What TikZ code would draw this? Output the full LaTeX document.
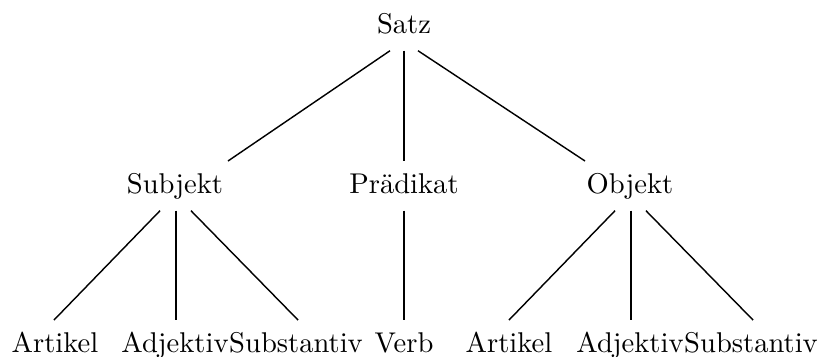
\documentclass[tikz,border=0pt]{standalone}
\usepackage{fontspec}
\usetikzlibrary{calc}

\begin{document}
\begin{tikzpicture}[x=0.35pt,y=-0.35pt,
  word/.style={anchor=base,inner xsep=0pt,inner ysep=4pt,text height=7pt,text depth=2pt},
  edge/.style={line width=0.5pt}]
\useasboundingbox (0,0) rectangle (823,356);
% Wurzel
\node[word] (satz) at (404,33) {Satz};

% mittlere Ebene
\node[word] (subj) at (175,193) {Subjekt};
\node[word] (praed) at (404,193) {Prädikat};
\node[word] (obj) at (630,193) {Objekt};

% untere Ebene
\node[word] (art1) at (55,352) {Artikel};
\node[word] (adj1) at (175,352) {Adjektiv};
\node[word] (sub1) at (296,352) {Substantiv};
\node[word] (verb) at (404,352) {Verb};
\node[word] (art2) at (509,352) {Artikel};
\node[word] (adj2) at (630,352) {Adjektiv};
\node[word] (sub2) at (751,352) {Substantiv};

% Kanten
\draw[edge] ($(satz.south)+(-14,0)$) -- ($(subj.north)+(53,0)$);
\draw[edge] (satz.south) -- (praed.north);
\draw[edge] ($(satz.south)+(14,0)$) -- ($(obj.north)+(-45,0)$);

\draw[edge] ($(subj.south)+(-15,0)$) -- ($(art1.north)+(-1,0)$);
\draw[edge] ($(subj.south)+(1,0)$) -- ($(adj1.north)+(1,0)$);
\draw[edge] ($(subj.south)+(16,0)$) -- ($(sub1.north)+(2,0)$);

\draw[edge] (praed.south) -- (verb.north);

\draw[edge] ($(obj.south)+(-15,0)$) -- (art2.north);
\draw[edge] ($(obj.south)+(1,0)$) -- ($(adj2.north)+(1,0)$);
\draw[edge] ($(obj.south)+(16,0)$) -- ($(sub2.north)+(2,0)$);
\end{tikzpicture}
\end{document}
